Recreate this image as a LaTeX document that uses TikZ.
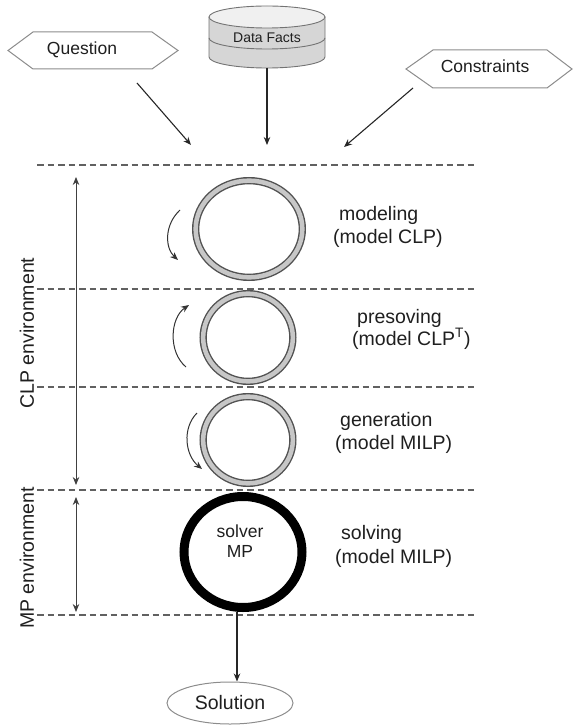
\documentclass[tikz,border=0pt]{standalone}
\usepackage{fontspec}
\setmainfont{Liberation Sans}
\usetikzlibrary{arrows.meta,shapes.geometric}
\begin{document}
\begin{tikzpicture}[x=1pt,y=-1pt,
  txt/.style={text=black!88, inner sep=0pt},
  big/.style={txt, font=\fontsize{19.5}{23}\selectfont},
  mid/.style={txt, font=\fontsize{17.5}{21}\selectfont},
  small/.style={txt, font=\fontsize{14}{17}\selectfont},
  tip/.style={-{Stealth[length=8pt,width=6.5pt]}},
  flow/.style={tip, draw=black!85, line width=1.1pt},
  hexa/.style={draw=black!45, line width=1pt, fill=white},
  level/.style={draw=black!62, line width=1.4pt, dash pattern=on 6.5pt off 4pt},
  ring/.style={ellipse, draw=black!68, line width=1.4pt, double=black!22,
    double distance=4.5pt, fill=white, inner sep=0pt},
  solverring/.style={ellipse, draw=black, line width=9pt, fill=white, inner sep=0pt},
  span/.style={{Stealth[length=8pt,width=6.5pt]}-{Stealth[length=8pt,width=6.5pt]},
    draw=black!75, line width=1pt},
  turn/.style={tip, draw=black!80, line width=1pt},
]
\useasboundingbox (0,0) rectangle (573,727);

% input: question
\draw[hexa] (8,50.5) -- (33,32) -- (152,32) -- (178,50.5) -- (152,69) -- (33,69) -- cycle;
\node[mid] (question) at (82,50) {Question};

% input: constraints
\draw[hexa] (406,69) -- (433,50) -- (547,50) -- (572,69) -- (547,88) -- (433,88) -- cycle;
\node[mid] (constraints) at (485,66) {Constraints};

% input: data facts (cylinder)
\fill[gray!32] (209,17) -- (209,57) arc[start angle=180, end angle=0, x radius=58, y radius=11]
  -- (325,17) -- cycle;
\draw[black!55, line width=0.9pt] (209,17) -- (209,57)
  arc[start angle=180, end angle=0, x radius=58, y radius=11] -- (325,17);
\draw[black!55, line width=0.9pt] (209,38)
  arc[start angle=180, end angle=0, x radius=58, y radius=11];
\draw[black!55, line width=0.9pt, fill=gray!12] (267,17) ellipse[x radius=58, y radius=11];
\node[small] (facts) at (267,38) {Data Facts};
\coordinate (factsout) at (267,68);

% arrows into the process
\coordinate (qa) at (137,83);  \coordinate (qb) at (191,145);
\coordinate (fb) at (267,145);
\coordinate (ca) at (413,88);  \coordinate (cb) at (344,147);
\draw[flow] (qa) -- (qb);
\draw[flow] (factsout) -- (fb);
\draw[flow] (ca) -- (cb);

% stage separators
\foreach \yy/\nm in {165/l0, 289/l1, 387/l2, 490/l3, 615/l4}{
  \coordinate (\nm w) at (37,\yy);
  \coordinate (\nm e) at (475,\yy);
  \draw[level] (\nm w) -- (\nm e);
}

% stage rings
\node[ring, minimum width=106.7pt, minimum height=96.7pt] (modeling) at (249,229) {};
\node[ring, minimum width=89.7pt, minimum height=87.7pt] (presolving) at (248,337.5) {};
\node[ring, minimum width=89.7pt, minimum height=86.7pt] (generation) at (248,440) {};
\node[solverring, minimum width=118pt, minimum height=111pt] (solver) at (243,552) {};
\node[mid, anchor=base] (solvertxt) at (240,537) {solver};
\node[mid, anchor=base] (mptxt) at (240,557) {MP};

% rotation arrows beside the rings
\coordinate (r1a) at (180,210); \coordinate (r1b) at (178,260);
\coordinate (r2a) at (186,367); \coordinate (r2b) at (189,305);
\coordinate (r3a) at (197,413); \coordinate (r3b) at (202,469);
\draw[turn] (r1a) .. controls (164,225) and (165,248) .. (r1b);
\draw[turn] (r2a) .. controls (168,352) and (170,318) .. (r2b);
\draw[turn] (r3a) .. controls (182,428) and (185,455) .. (r3b);

% stage labels
\node[big, anchor=base west] (lab1a) at (339,220) {modeling};
\node[big, anchor=base west] (lab1b) at (333,243) {(model CLP)};
\node[big, anchor=base west] (lab2a) at (357,323) {presoving};
\node[big, anchor=base west] (lab2b) at (352,345) {(model CLP\textsuperscript{T})};
\node[big, anchor=base west] (lab3a) at (340,426) {generation};
\node[big, anchor=base west] (lab3b) at (335,449) {(model MILP)};
\node[big, anchor=base west] (lab4a) at (341,539) {solving};
\node[big, anchor=base west] (lab4b) at (335,563) {(model MILP)};

% environments
\coordinate (clpa) at (76,177); \coordinate (clpb) at (76,485);
\coordinate (mpa) at (76,497);  \coordinate (mpb) at (76,612);
\draw[span] (clpa) -- (clpb);
\draw[span] (mpa) -- (mpb);
\node[big, rotate=90] (clpenv) at (27,333) {CLP environment};
\node[big, rotate=90] (mpenv) at (27,558) {MP environment};

% result
\node[ellipse, draw=black!45, line width=1pt, minimum width=126pt, minimum height=42pt,
  inner sep=0pt, big] (solution) at (230,703) {Solution};
\draw[flow] ([xshift=-6pt]solver.south) -- ([xshift=-6pt]solver.south |- solution.north);
\end{tikzpicture}
\end{document}
